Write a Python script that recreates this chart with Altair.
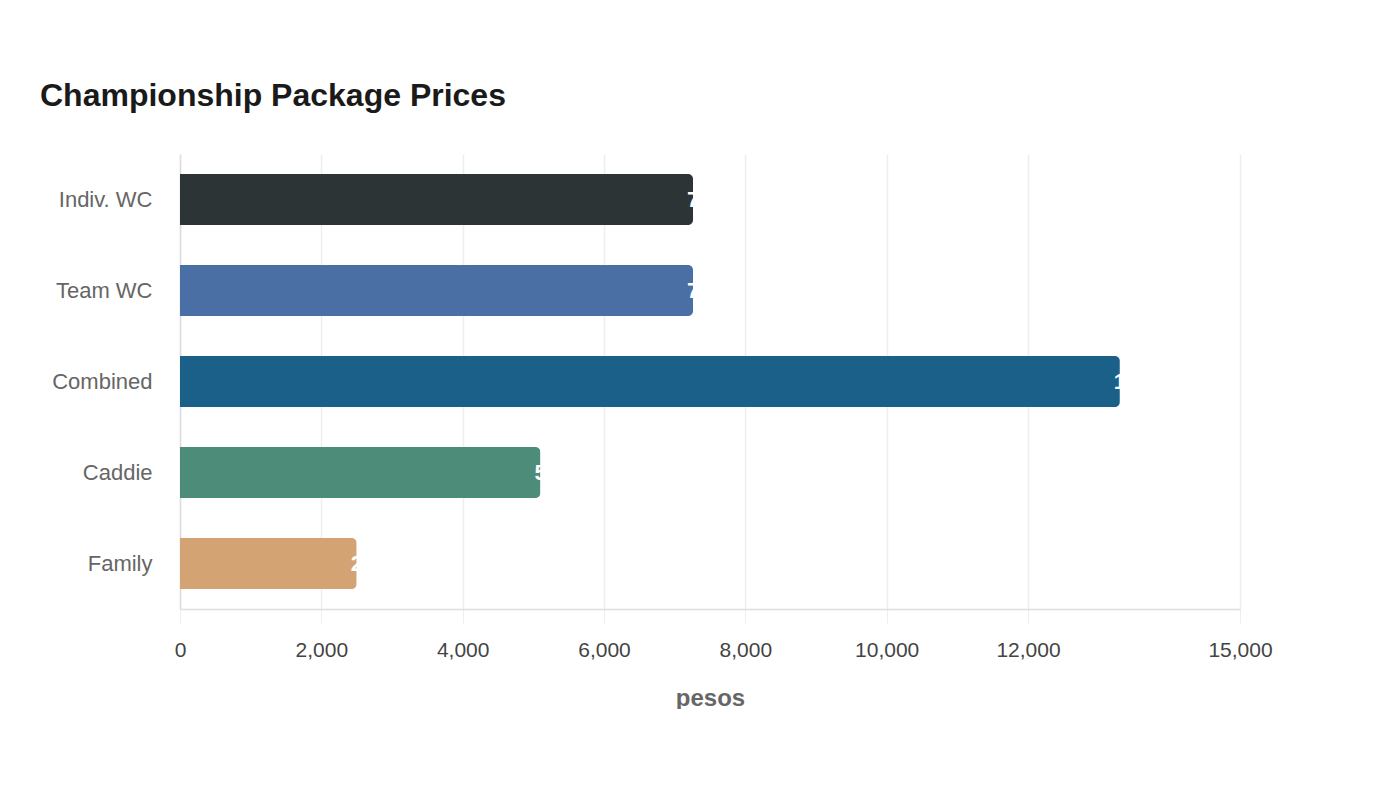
import altair as alt
import pandas as pd

categories = ["Indiv. WC", "Team WC", "Combined", "Caddie", "Family"]
prices = [7260, 7260, 13300, 5100, 2500]
colors = ["#2d3436", "#4a6fa5", "#1a6088", "#4e8c7a", "#d4a373"]
tick_values = [0, 2000, 4000, 6000, 8000, 10000, 12000, 15000]

df = pd.DataFrame({"category": categories, "price": prices})

FONT = "Liberation Sans"

y_enc = alt.Y(
    "category:N",
    sort=categories,
    title=None,
    scale=alt.Scale(paddingInner=0.44, paddingOuter=0.22),
    axis=alt.Axis(
        labelFontSize=22, labelColor="#666666", labelFont=FONT,
        ticks=False, labelPadding=28, domainColor="#dddddd", domainWidth=1.5,
        grid=False,
    ),
)

x_enc = alt.X(
    "price:Q",
    title="pesos",
    scale=alt.Scale(domain=[0, 15000], nice=False),
    axis=alt.Axis(
        values=tick_values, format=",.0f", labelFontSize=21, labelColor="#444444",
        labelFont=FONT, tickSize=14, tickColor="#eeeeee", labelPadding=16,
        labelFlush=False,
        gridColor="#eeeeee", gridWidth=1.5, domainColor="#dddddd", domainWidth=1.5,
        titleFontSize=24, titleFontWeight="bold", titleColor="#666666",
        titleFont=FONT, titlePadding=26,
    ),
)

bars = alt.Chart(df).mark_bar(cornerRadiusEnd=5).encode(
    x=x_enc,
    y=y_enc,
    color=alt.Color("category:N", scale=alt.Scale(domain=categories, range=colors), legend=None),
)

labels = alt.Chart(df).mark_text(
    align="left", baseline="middle", dx=-6, color="white",
    fontWeight="bold", fontSize=22, font=FONT,
).encode(
    x=alt.X("price:Q"),
    y=alt.Y("category:N", sort=categories),
    text=alt.Text("price:Q", format=",.0f"),
)

chart = (bars + labels).properties(
    width=1060,
    height=455,
    background="white",
    padding={"left": 180, "top": 154, "right": 160, "bottom": 100},
    autosize=alt.AutoSizeParams(type="none"),
    title=alt.TitleParams(
        "Championship Package Prices",
        anchor="start", frame="group", dx=-140, fontSize=32, font=FONT,
        fontWeight="bold", color="#1a1a1a", baseline="alphabetic", offset=16,
    ),
).configure_view(strokeWidth=0, stroke="transparent")

chart.save("out.html", embed_options={"renderer": "svg", "actions": False})
